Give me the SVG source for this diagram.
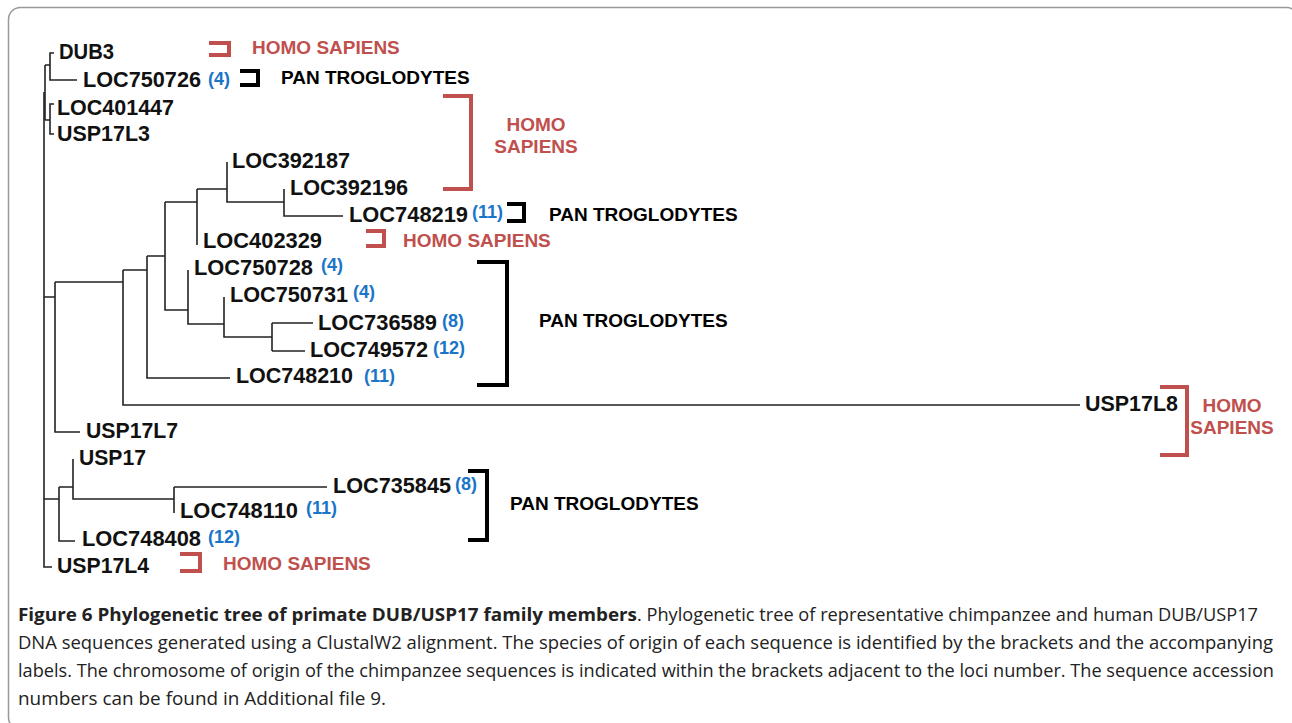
<svg xmlns="http://www.w3.org/2000/svg" width="1292" height="723" viewBox="0 0 1292 723">
<style>
.leaf{font-family:"Liberation Sans",Arial,sans-serif;font-weight:bold;font-size:22px;fill:#111}
.chr{font-family:"Liberation Sans",Arial,sans-serif;font-weight:bold;font-size:18px;fill:#1a75c8}
.hs{font-family:"Liberation Sans",Arial,sans-serif;font-weight:bold;font-size:19px;fill:#c0504d}
.pt{font-family:"Liberation Sans",Arial,sans-serif;font-weight:bold;font-size:19px;fill:#000}
.br-r{fill:none;stroke:#c0504d;stroke-width:4}
.br-k{fill:none;stroke:#000;stroke-width:4}
.edge{fill:none;stroke:#222;stroke-width:1.6}
.cap{font-family:"Open Sans","Noto Sans",sans-serif;font-size:18px;fill:#222}
.capb{font-family:"Open Sans","Noto Sans",sans-serif;font-size:18px;font-weight:bold;fill:#222}
</style>
<rect x="0" y="0" width="1292" height="723" fill="#fff"/>
<rect x="8.5" y="7.5" width="1290" height="722" rx="12" ry="12" fill="none" stroke="#999" stroke-width="1.5"/>

<g id="connectors">
<path class="edge" d="M44,92 V567 H52" stroke-width="3"/>
<path class="edge" d="M45,65 V120"/>
<path class="edge" d="M45,65 H50 M54,53 H50 V80 H77"/>
<path class="edge" d="M45,120 H50 M54,104 H50 V134 H54"/>
<path class="edge" d="M44,297 H55 M55,282 V432 H80"/>
<path class="edge" d="M55,282 H123 M123,270 V405 H1080"/>
<path class="edge" d="M123,270 H147 M147,256 V378 H230"/>
<path class="edge" d="M147,256 H165 M165,202 V310 H188"/>
<path class="edge" d="M165,202 H197 M197,189 V245"/>
<path class="edge" d="M197,189 H227 M227,162 V202 H284"/>
<path class="edge" d="M284,189 V216 H343"/>
<path class="edge" d="M188,270 V324 H224 M224,297 V337 H272 M272,323 V351 M272,323 H313 M272,351 H305"/>
<path class="edge" d="M44,499 H59 M59,487 V541 H75 M59,487 H73 M73,459 V499 H174 M174,487 V513 M174,487 H327"/>
</g>

<g id="n-DUB3"><text class="leaf" x="59" y="59" textLength="55" lengthAdjust="spacingAndGlyphs">DUB3</text></g>
<g id="n-LOC750726"><text class="leaf" x="83" y="87" textLength="118" lengthAdjust="spacingAndGlyphs">LOC750726</text><text class="chr" x="208" y="85">(4)</text></g>
<g id="n-LOC401447"><text class="leaf" x="57" y="115" textLength="117" lengthAdjust="spacingAndGlyphs">LOC401447</text></g>
<g id="n-USP17L3"><text class="leaf" x="57" y="141" textLength="93" lengthAdjust="spacingAndGlyphs">USP17L3</text></g>
<g id="n-LOC392187"><text class="leaf" x="232" y="168" textLength="118" lengthAdjust="spacingAndGlyphs">LOC392187</text></g>
<g id="n-LOC392196"><text class="leaf" x="290" y="195" textLength="118" lengthAdjust="spacingAndGlyphs">LOC392196</text></g>
<g id="n-LOC748219"><text class="leaf" x="349" y="222" textLength="119" lengthAdjust="spacingAndGlyphs">LOC748219</text><text class="chr" x="472" y="218">(11)</text></g>
<g id="n-LOC402329"><text class="leaf" x="203" y="248" textLength="119" lengthAdjust="spacingAndGlyphs">LOC402329</text></g>
<g id="n-LOC750728"><text class="leaf" x="194" y="275" textLength="119" lengthAdjust="spacingAndGlyphs">LOC750728</text><text class="chr" x="321" y="271">(4)</text></g>
<g id="n-LOC750731"><text class="leaf" x="230" y="302" textLength="118" lengthAdjust="spacingAndGlyphs">LOC750731</text><text class="chr" x="353" y="298">(4)</text></g>
<g id="n-LOC736589"><text class="leaf" x="318" y="330" textLength="119" lengthAdjust="spacingAndGlyphs">LOC736589</text><text class="chr" x="442" y="327">(8)</text></g>
<g id="n-LOC749572"><text class="leaf" x="310" y="357" textLength="118" lengthAdjust="spacingAndGlyphs">LOC749572</text><text class="chr" x="433" y="354">(12)</text></g>
<g id="n-LOC748210"><text class="leaf" x="236" y="383" textLength="117" lengthAdjust="spacingAndGlyphs">LOC748210</text><text class="chr" x="364" y="382">(11)</text></g>
<g id="n-USP17L8"><text class="leaf" x="1085" y="411" textLength="93" lengthAdjust="spacingAndGlyphs">USP17L8</text></g>
<g id="n-USP17L7"><text class="leaf" x="86" y="438" textLength="92" lengthAdjust="spacingAndGlyphs">USP17L7</text></g>
<g id="n-USP17"><text class="leaf" x="79" y="465" textLength="67" lengthAdjust="spacingAndGlyphs">USP17</text></g>
<g id="n-LOC735845"><text class="leaf" x="333" y="493" textLength="118" lengthAdjust="spacingAndGlyphs">LOC735845</text><text class="chr" x="455" y="490">(8)</text></g>
<g id="n-LOC748110"><text class="leaf" x="180" y="518" textLength="118" lengthAdjust="spacingAndGlyphs">LOC748110</text><text class="chr" x="306" y="514">(11)</text></g>
<g id="n-LOC748408"><text class="leaf" x="82" y="546" textLength="119" lengthAdjust="spacingAndGlyphs">LOC748408</text><text class="chr" x="208" y="543">(12)</text></g>
<g id="n-USP17L4"><text class="leaf" x="57" y="573" textLength="92" lengthAdjust="spacingAndGlyphs">USP17L4</text></g>

<g id="sp-1"><path class="br-r" d="M209,43 H229 V55 H209"/><text class="hs" x="252" y="54">HOMO SAPIENS</text></g>
<g id="sp-2"><path class="br-k" d="M240,71 H258 V85 H240"/><text class="pt" x="281" y="84">PAN TROGLODYTES</text></g>
<g id="sp-3"><path class="br-r" d="M443,96 H471 V189 H443"/><text class="hs" x="536" y="131" text-anchor="middle">HOMO</text><text class="hs" x="536" y="153" text-anchor="middle">SAPIENS</text></g>
<g id="sp-4"><path class="br-k" d="M507,204 H524 V221 H507"/><text class="pt" x="549" y="221">PAN TROGLODYTES</text></g>
<g id="sp-5"><path class="br-r" d="M366,231 H384 V246 H366"/><text class="hs" x="403" y="247">HOMO SAPIENS</text></g>
<g id="sp-6"><path class="br-k" d="M477,262 H507 V385 H477"/><text class="pt" x="539" y="327">PAN TROGLODYTES</text></g>
<g id="sp-7"><path class="br-r" d="M1160,387 H1187 V455 H1160"/><text class="hs" x="1232" y="412" text-anchor="middle">HOMO</text><text class="hs" x="1232" y="434" text-anchor="middle">SAPIENS</text></g>
<g id="sp-8"><path class="br-k" d="M468,471 H487 V540 H468"/><text class="pt" x="510" y="510">PAN TROGLODYTES</text></g>
<g id="sp-9"><path class="br-r" d="M180,554 H200 V571 H180"/><text class="hs" x="223" y="570">HOMO SAPIENS</text></g>

<g id="caption">
<text class="capb" x="18" y="621" textLength="619" lengthAdjust="spacingAndGlyphs">Figure 6 Phylogenetic tree of primate DUB/USP17 family members</text>
<text class="cap" x="637" y="621" textLength="621" lengthAdjust="spacingAndGlyphs">. Phylogenetic tree of representative chimpanzee and human DUB/USP17</text>
<text class="cap" x="18" y="649" textLength="1255" lengthAdjust="spacingAndGlyphs">DNA sequences generated using a ClustalW2 alignment. The species of origin of each sequence is identified by the brackets and the accompanying</text>
<text class="cap" x="18" y="677" textLength="1256" lengthAdjust="spacingAndGlyphs">labels. The chromosome of origin of the chimpanzee sequences is indicated within the brackets adjacent to the loci number. The sequence accession</text>
<text class="cap" x="18" y="705" textLength="368" lengthAdjust="spacingAndGlyphs">numbers can be found in Additional file 9.</text>
</g>
</svg>
